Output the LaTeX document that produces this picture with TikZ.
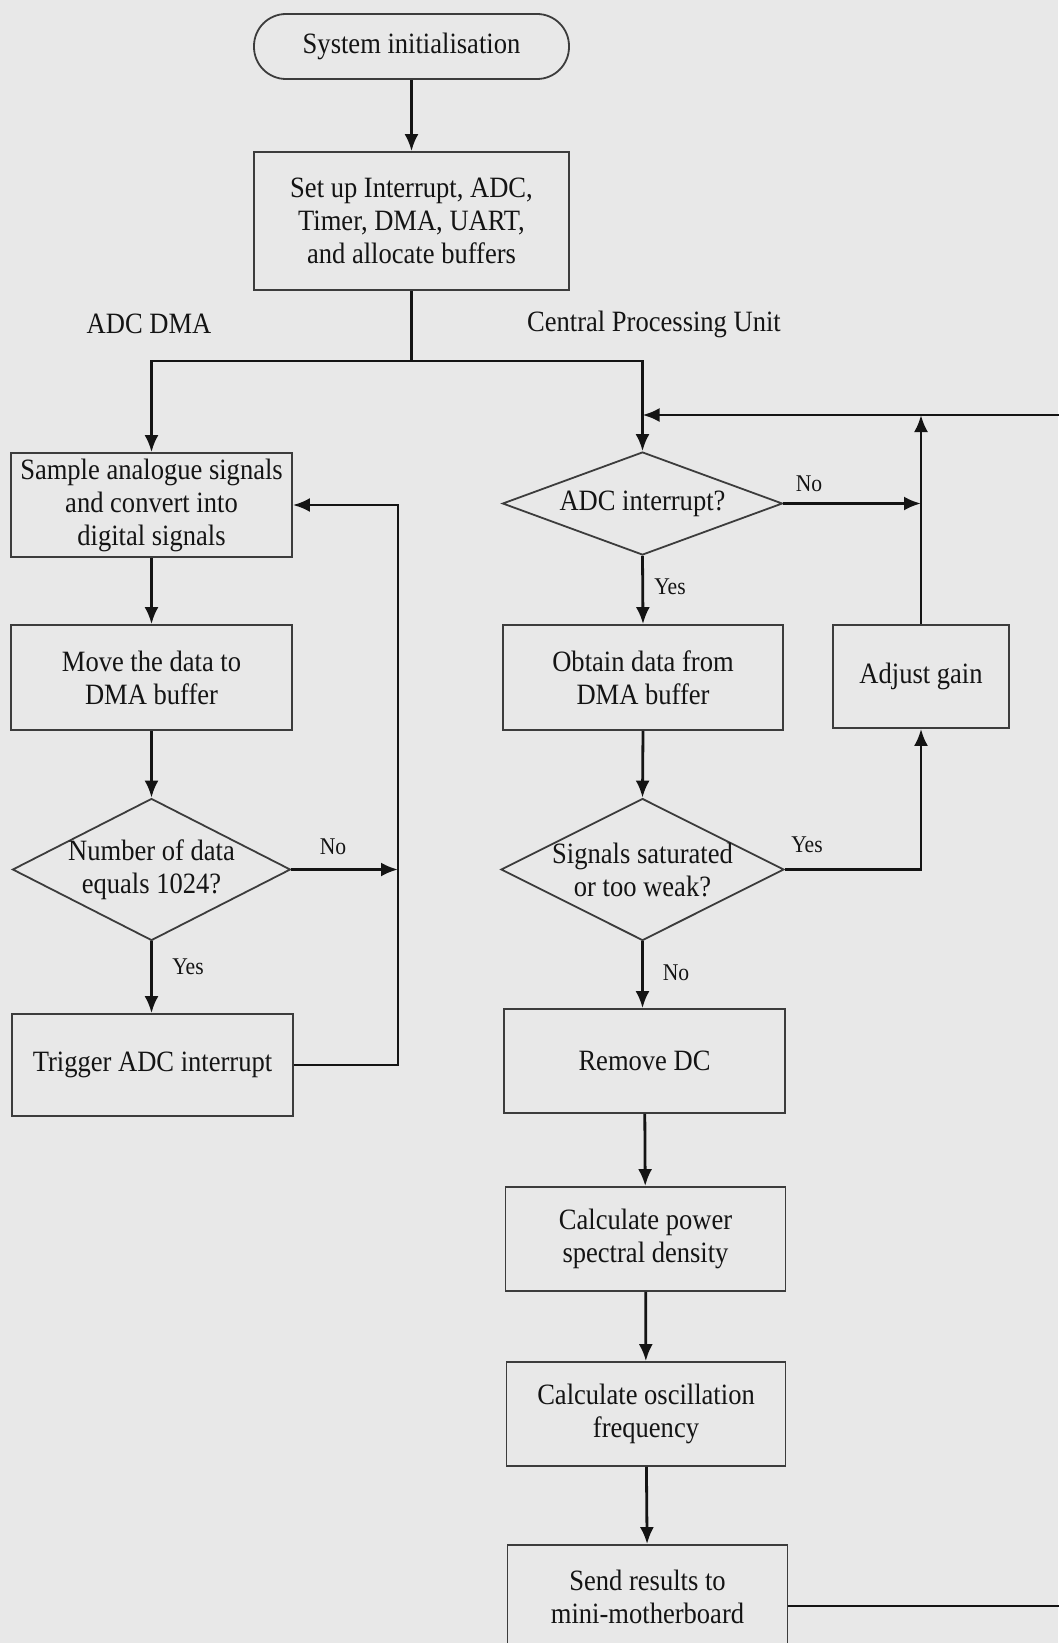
\documentclass[tikz,border=0pt]{standalone}
\usepackage{fontspec}
\setmainfont{Liberation Serif}[FakeStretch=0.9]
\usetikzlibrary{shapes.geometric,arrows.meta}
\definecolor{bg}{RGB}{232,232,232}
\definecolor{ink}{RGB}{20,20,20}
\definecolor{edge}{RGB}{60,60,60}
\tikzset{
  box/.style={draw=edge, line width=1.8pt, fill=bg, rectangle, align=center, inner sep=0pt,
    font=\fontsize{29.5}{33}\selectfont, text=ink},
  dia/.style={draw=edge, line width=1.8pt, fill=bg, diamond, inner sep=0pt},
  txt/.style={align=center, font=\fontsize{29.5}{33}\selectfont, text=ink, inner sep=0pt},
  lab/.style={font=\fontsize{24}{27}\selectfont, text=ink, inner sep=0pt},
  conn/.style={draw=ink, line width=2.8pt, -{Latex[length=17pt,width=14pt]}},
  wire/.style={draw=ink, line width=2.8pt},
}
\begin{document}
\begin{tikzpicture}[x=1pt,y=-1pt]
\useasboundingbox (0,0) rectangle (1058,1643);
\fill[bg] (0,0) rectangle (1058,1643);

% nodes
\node[box, rounded corners=32pt, minimum width=315pt, minimum height=65pt] (init) at (411.5,46.5) {System initialisation};
\node[box, minimum width=315pt, minimum height=138pt] (setup) at (411.5,221) {Set up Interrupt, ADC,\\Timer, DMA, UART,\\and allocate buffers};
\node[txt] (ladc) at (149,324) {ADC DMA};
\node[txt] (lcpu) at (654,324) {Central Processing Unit};

\node[box, minimum width=281pt, minimum height=104pt] (sample) at (151.5,505) {Sample analogue signals\\and convert into\\digital signals};
\node[box, minimum width=281pt, minimum height=105pt] (move) at (151.5,677.5) {Move the data to\\DMA buffer};
\node[dia, minimum width=278pt, minimum height=142pt] (d1) at (151.5,869.5) {};
\node[txt] (d1t) at (d1) {Number of data\\equals 1024?};
\node[box, minimum width=281pt, minimum height=102pt] (trig) at (152.5,1065) {Trigger ADC interrupt};

\node[dia, minimum width=280pt, minimum height=103pt] (adc) at (642.5,503.5) {};
\node[txt] (adct) at (adc) {ADC interrupt?};
\node[box, minimum width=280pt, minimum height=105pt] (obtain) at (643,677.5) {Obtain data from\\DMA buffer};
\node[box, minimum width=176pt, minimum height=103pt] (adj) at (921,676.5) {Adjust gain};
\node[dia, minimum width=283pt, minimum height=142pt] (sig) at (642.5,869.5) {};
\node[txt] (sigt) at (sig) {Signals saturated\\or too weak?};
\node[box, minimum width=281pt, minimum height=104pt] (rdc) at (644.5,1061) {Remove DC};
\node[box, minimum width=280pt, minimum height=104pt] (psd) at (645.5,1239) {Calculate power\\spectral density};
\node[box, minimum width=279pt, minimum height=104pt] (osc) at (646,1414) {Calculate oscillation\\frequency};
\node[box, minimum width=280pt, minimum height=104pt] (send) at (647.5,1597) {Send results to\\mini-motherboard};

% labels
\node[lab] (no1) at (333,847) {No};
\node[lab] (yes1) at (188,967) {Yes};
\node[lab] (no2) at (809,484) {No};
\node[lab] (yes2) at (670,587) {Yes};
\node[lab] (yes3) at (807,845) {Yes};
\node[lab] (no3) at (676,973) {No};

% coordinates
\coordinate (bj) at (411.5,361);
\coordinate (lv) at (398,869.5);
\coordinate (top) at (642.5,415);
\coordinate (far) at (1075,1606);

% connectors
\draw[conn] (init) -- (setup);
\draw[wire] (setup.south) -- (bj);
\draw[conn] (bj) -| (sample.north);
\draw[conn] (bj) -| (adc.north);
\draw[conn] (sample) -- (move);
\draw[conn] (move) -- (d1.north);
\draw[conn] (d1.south) -- (d1.south |- trig.north);
\draw[conn] (d1.east) -- (lv);
\draw[conn] (trig.east) -| (lv) |- (sample.east);

\draw[conn] (adc.south) -- (obtain.north);
\draw[conn] (adc.east) -- (adc.east -| adj.north);
\draw[conn] (adj.north) -- (adj.north |- top);
\draw[conn] (obtain.south) -- (sig.north);
\draw[conn] (sig.east) -| (adj.south);
\draw[conn] (sig.south) -- (sig.south |- rdc.north);
\draw[conn] (rdc) -- (psd);
\draw[conn] (psd) -- (osc);
\draw[conn] (osc) -- (send);
\draw[conn] (send.east |- far) -- (far) |- (top);
\end{tikzpicture}
\end{document}
